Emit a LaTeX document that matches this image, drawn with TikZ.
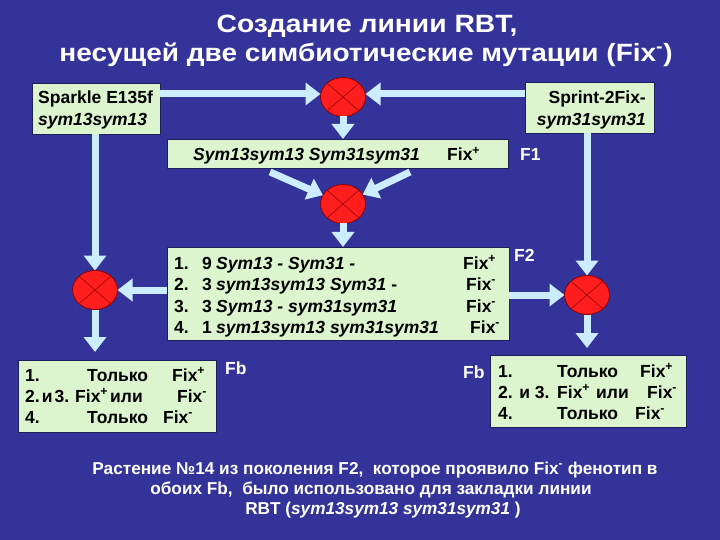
\documentclass[tikz,border=0pt]{standalone}
\usepackage{fontspec}
\setmainfont{Liberation Sans}
\usetikzlibrary{arrows.meta,shapes.geometric,calc}
\definecolor{bg}{RGB}{51,51,153}
\definecolor{boxg}{RGB}{221,245,206}
\definecolor{arr}{RGB}{204,236,255}
\definecolor{redc}{RGB}{255,30,30}
\definecolor{redd}{RGB}{140,0,0}
\begin{document}
\begin{tikzpicture}[x=1pt,y=-1pt,
 box/.style={draw=bg!60!black, line width=0.8pt, fill=boxg, inner sep=0pt, outer sep=0pt},
 txt/.style={anchor=base west, inner sep=0pt, font=\fontsize{17.5}{20}\selectfont\bfseries},
 wtxt/.style={txt, text=white},
 ctxt/.style={anchor=base, inner sep=0pt, text=white, font=\fontsize{17.2}{20}\selectfont\bfseries},
 ttl/.style={anchor=base, inner sep=0pt, text=white, font=\fontsize{25}{30}\selectfont\bfseries},
 cross/.style={ellipse, draw=redd, line width=0.8pt, fill=redc, minimum width=45pt, minimum height=39pt, inner sep=0pt, outer sep=0pt},
 xline/.style={draw=redd!80!redc, line width=0.7pt},
 arrow/.style={draw=arr, line width=7pt, -{Triangle[length=15pt,width=22pt]}},
 plain/.style={draw=arr, line width=7pt}]
\fill[bg] (0,0) rectangle (720,540);
\useasboundingbox (0,0) rectangle (720,540);

% title
\node[ttl] (t1) at (367,33) {\scalebox{1.13}[1]{Создание линии RBT,}};
\node[ttl] (t2) at (366,62) {\scalebox{1.12}[1]{несущей две симбиотические мутации (Fix\textsuperscript{-})}};

% parent boxes
\node[box, minimum width=128pt, minimum height=51pt] (sparkle) at (96,108.5) {};
\node[txt] (sp1) at (38,104) {Sparkle E135f};
\node[txt] (sp2) at (38,126) {\textit{sym13sym13}};
\node[box, minimum width=129pt, minimum height=51pt] (sprint) at (589.5,107.5) {};
\node[txt, anchor=base east] (sr1) at (646,104) {Sprint-2Fix-};
\node[txt, anchor=base east] (sr2) at (646,126) {\textit{sym31sym31}};

% crosses
\node[cross] (c1) at (343,97) {};
\node[cross] (c2) at (343,204) {};
\node[cross] (cl) at (95,290) {};
\node[cross] (cr) at (587,295) {};
\foreach \c in {c1,c2,cl,cr}{
  \draw[xline] (\c.north west) -- (\c.south east);
  \draw[xline] (\c.north east) -- (\c.south west);
}

% F1 box
\node[box, minimum width=341pt, minimum height=29pt] (f1) at (337.5,153.5) {};
\node[txt] (f1a) at (193,161) {\textit{Sym13sym13 Sym31sym31}};
\node[txt] (f1b) at (447,161) {Fix\textsuperscript{+}};
\node[wtxt] (f1l) at (520,161) {F1};

% F2 box
\node[box, minimum width=342pt, minimum height=93pt] (f2) at (338,293.5) {};
\node[txt] (f2a) at (174,269) {\makebox[28pt][l]{1.}\makebox[14pt][l]{9}\textit{Sym13 - Sym31 -}};
\node[txt] (f2b) at (174,290) {\makebox[28pt][l]{2.}\makebox[14pt][l]{3}\textit{sym13sym13 Sym31} -};
\node[txt] (f2c) at (174,312) {\makebox[28pt][l]{3.}\makebox[14pt][l]{3}\textit{Sym13 - sym31sym31}};
\node[txt] (f2d) at (174,333) {\makebox[28pt][l]{4.}\makebox[14pt][l]{1}\textit{sym13sym13 sym31sym31}};
\node[txt] (f2fa) at (463,269) {Fix\textsuperscript{+}};
\node[txt] (f2fb) at (466,290) {Fix\textsuperscript{-}};
\node[txt] (f2fc) at (466,312) {Fix\textsuperscript{-}};
\node[txt] (f2fd) at (470,333) {Fix\textsuperscript{-}};
\node[wtxt] (f2l) at (514,261) {F2};

% Fb boxes
\node[box, minimum width=198pt, minimum height=72pt] (fbl) at (117,396) {};
\node[txt] (fbl1) at (25,381) {\makebox[62pt][l]{1.}\makebox[85pt][l]{Только}Fix\textsuperscript{+}};
\node[txt] (fbl2) at (25,402) {\makebox[50pt][l]{2.\kern2pt и\kern2pt 3.}\makebox[35pt][l]{Fix\textsuperscript{+}}\makebox[67pt][l]{или}Fix\textsuperscript{-}};
\node[txt] (fbl3) at (25,423) {\makebox[62pt][l]{4.}\makebox[76pt][l]{Только}Fix\textsuperscript{-}};
\node[wtxt] (fbll) at (225,374) {Fb};

\node[box, minimum width=196pt, minimum height=72pt] (fbr) at (588,391) {};
\node[txt] (fbr1) at (498,377) {\makebox[59pt][l]{1.}\makebox[83pt][l]{Только}Fix\textsuperscript{+}};
\node[txt] (fbr2) at (498,398) {\makebox[59pt][l]{2. и 3.}\makebox[39pt][l]{Fix\textsuperscript{+}}\makebox[51pt][l]{или}Fix\textsuperscript{-}};
\node[txt] (fbr3) at (498,419) {\makebox[59pt][l]{4.}\makebox[78pt][l]{Только}Fix\textsuperscript{-}};
\node[wtxt] (fbrl) at (463,378) {Fb};

% connectors
\draw[arrow] ($(sparkle.east |- c1)+(0,-3)$) -- ($(c1.west)+(0,-3)$);
\draw[arrow] ($(sprint.west |- c1)+(0,-3)$) -- ($(c1.east)+(0,-3)$);
\draw[arrow] (c1.south) -- (c1 |- f1.north);
\coordinate (d1) at (270,172);
\coordinate (d2) at (410,172);
\draw[arrow] (d1) -- (c2);
\draw[arrow] (d2) -- (c2);
\draw[arrow] (c2.south) -- (c2 |- f2.north);
\draw[arrow] (sparkle.south -| cl) -- (cl.north);
\draw[arrow] (sprint.south -| cr) -- (cr.north);
\draw[arrow] (f2.west |- cl) -- (cl.east);
\draw[arrow] (f2.east |- cr) -- (cr.west);
\draw[arrow, shorten >=8pt] (cl.south) -- (cl |- fbl.north);
\draw[arrow, shorten >=7pt] (cr.south) -- (cr |- fbr.north);

% bottom text
\node[ctxt] (b1) at (375,474) {Растение №14 из поколения F2,\ \ которое проявило Fix\textsuperscript{-} фенотип в};
\node[ctxt] (b2) at (371,494) {обоих Fb,\ \ было использовано для закладки линии};
\node[ctxt] (b3) at (383,514) {RBT (\textit{sym13sym13 sym31sym31} )};
\end{tikzpicture}
\end{document}
